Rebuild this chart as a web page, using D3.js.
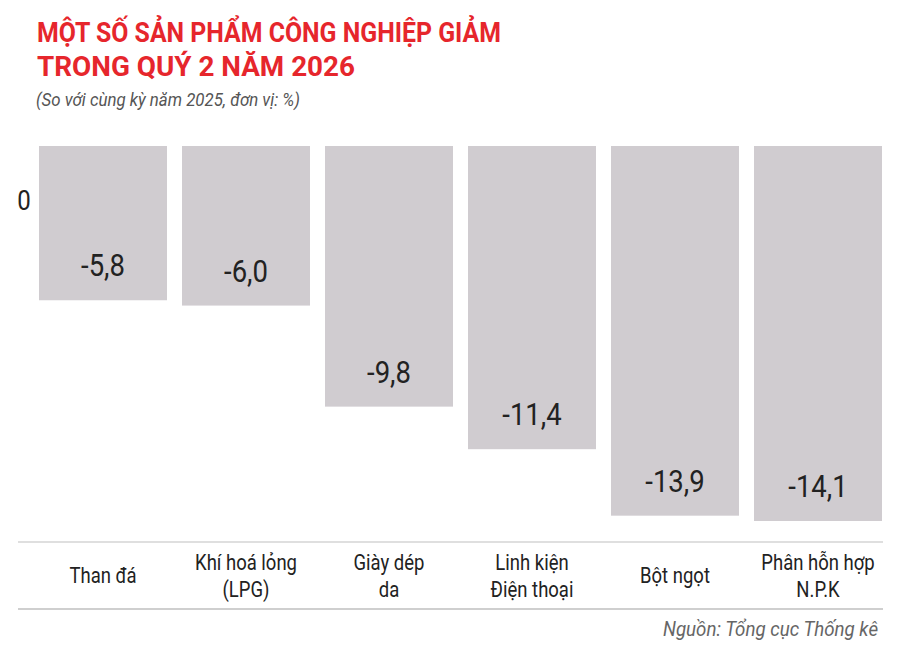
<!DOCTYPE html>
<html><head><meta charset="utf-8">
<script src="https://cdn.jsdelivr.net/npm/d3@7"></script>
<style>body{margin:0;background:#fff}svg{display:block}text{font-family:Roboto,"Noto Sans",sans-serif}</style>
</head><body>
<script>
const categories = [["Than đá"],["Khí hoá lỏng","(LPG)"],["Giày dép","da"],["Linh kiện","Điện thoại"],["Bột ngọt"],["Phân hỗn hợp","N.P.K"]];
const values = [-5.8,-6.0,-9.8,-11.4,-13.9,-14.1];
const valueLabels = ["-5,8","-6,0","-9,8","-11,4","-13,9","-14,1"];
const titleLines = ["MỘT SỐ SẢN PHẨM CÔNG NGHIỆP GIẢM","TRONG QUÝ 2 NĂM 2026"];
const subtitle = "(So với cùng kỳ năm 2025, đơn vị: %)";
const source = "Nguồn: Tổng cục Thống kê";

const W=900,H=646;
const svg=d3.select("body").append("svg").attr("width",W).attr("height",H);
const idx=d3.range(values.length);
const x=d3.scaleBand().domain(idx).range([39,882]).paddingInner(15/143).paddingOuter(0);
const y=d3.scaleLinear().domain([0,-14.1]).range([146,521]);
const SX=0.86;

function ctext(g,tx,ty,str,opts){
  const t=g.append("text").attr("transform",`translate(${tx},${ty}) scale(${opts.sx||SX},1)`)
    .attr("text-anchor",opts.anchor||"middle").attr("font-size",opts.size).attr("fill",opts.fill||"#222")
    .text(str);
  if(opts.weight)t.attr("font-weight",opts.weight);
  if(opts.style)t.attr("font-style",opts.style);
  return t;
}
function fitText(g,x0,y0,str,len,opts){
  const t=g.append("text").attr("x",x0).attr("y",y0).attr("font-size",opts.size).attr("fill",opts.fill)
    .attr("textLength",len).attr("lengthAdjust","spacingAndGlyphs").text(str);
  if(opts.weight)t.attr("font-weight",opts.weight);
  if(opts.style)t.attr("font-style",opts.style);
  return t;
}

// title
fitText(svg,37,41.5,titleLines[0],464,{size:27,weight:700,fill:"#e6262c"});
fitText(svg,37,76,titleLines[1],318,{size:27,weight:700,fill:"#e6262c"});
fitText(svg,36,106,subtitle,264,{size:18.5,style:"italic",fill:"#555"});

// bars
svg.append("g").selectAll("rect").data(idx).join("rect")
  .attr("x",i=>x(i)).attr("width",x.bandwidth())
  .attr("y",y(0)).attr("height",i=>y(values[i])-y(0)).attr("fill","#d0ccd0");

// value labels
const vl=svg.append("g");
idx.forEach(i=>ctext(vl,x(i)+x.bandwidth()/2,y(values[i])-24,valueLabels[i],{size:32,fill:"#222"}));

// zero label
ctext(svg,24,210,"0",{size:28,fill:"#222"});

// lines
svg.append("line").attr("x1",18).attr("x2",883).attr("y1",542).attr("y2",542).attr("stroke","#d4d4d4").attr("stroke-width",1.6);
svg.append("line").attr("x1",18).attr("x2",883).attr("y1",609).attr("y2",609).attr("stroke","#cfcfcf").attr("stroke-width",2.2);

// category labels
const cl=svg.append("g");
idx.forEach(i=>{
  const lines=categories[i];const cx=x(i)+x.bandwidth()/2;
  if(lines.length===1) ctext(cl,cx,583,lines[0],{size:21.5,fill:"#222"});
  else lines.forEach((s,k)=>ctext(cl,cx,570+27*k,s,{size:21.5,fill:"#222"}));
});

// source
fitText(svg,663,636,source,215,{size:19.5,style:"italic",fill:"#666"});
</script>
</body></html>
